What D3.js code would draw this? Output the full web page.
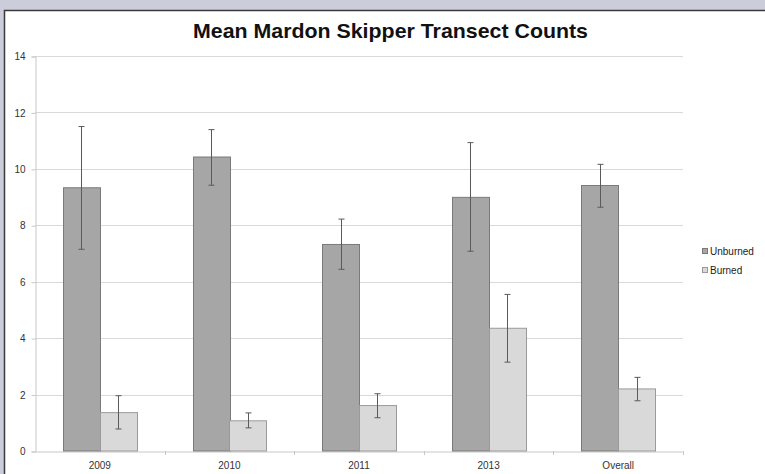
<!DOCTYPE html>
<html lang="en">
  <head>
    <meta charset="utf-8" />
    <title>Mean Mardon Skipper Transect Counts</title>
    <script src="https://d3js.org/d3.v7.min.js"></script>
    <style>
      body { margin: 0; background: #cbcdda; }
      svg { display: block; font-family: "Liberation Sans", Arial, sans-serif; }
    </style>
  </head>
  <body>
    <svg width="765" height="474"></svg>
  </body>
  <script>
    // Data
    const categories = ['2009', '2010', '2011', '2013', 'Overall'];
    const seriesNames = ['Unburned', 'Burned'];
    const unburned = [9.33, 10.42, 7.32, 8.99, 9.41];
    const unburnedLow = [7.15, 9.42, 6.44, 7.08, 8.64];
    const unburnedHigh = [11.5, 11.39, 8.22, 10.93, 10.16];
    const burned = [1.36, 1.07, 1.61, 4.35, 2.2];
    const burnedLow = [0.78, 0.82, 1.18, 3.15, 1.78];
    const burnedHigh = [1.96, 1.35, 2.03, 5.55, 2.61];
    const yTicks = [0, 2, 4, 6, 8, 10, 12, 14];

    const svg = d3.select('svg');

    // white chart panel with dark border
    svg.append('rect')
      .attr('x', 4.5).attr('y', 10.5)
      .attr('width', 780).attr('height', 480)
      .attr('fill', '#fff')
      .attr('stroke', '#3a3a3a')
      .attr('stroke-width', 1.5);

    svg.append('text')
      .attr('x', 390.5).attr('y', 38)
      .attr('text-anchor', 'middle')
      .attr('font-size', 20.5)
      .attr('font-weight', 'bold')
      .attr('fill', '#111')
      .attr('textLength', 395)
      .attr('lengthAdjust', 'spacingAndGlyphs')
      .text('Mean Mardon Skipper Transect Counts');

    const plotLeft = 35, plotRight = 683, plotTop = 56, plotBottom = 451;

    const x = d3.scaleBand()
      .domain(categories)
      .range([plotLeft, plotRight]);

    const x1 = d3.scaleBand()
      .domain(seriesNames)
      .range([0, x.bandwidth()])
      .paddingOuter(0.76)
      .paddingInner(0);

    const y = d3.scaleLinear()
      .domain([0, 14])
      .range([plotBottom, plotTop]);

    // horizontal gridlines
    svg.append('g')
      .selectAll('line')
      .data(yTicks.filter(d => d > 0))
      .join('line')
      .attr('x1', plotLeft).attr('x2', plotRight)
      .attr('y1', d => Math.round(y(d)) + 0.5)
      .attr('y2', d => Math.round(y(d)) + 0.5)
      .attr('stroke', '#d9d9d9');

    // y axis
    const yAxis = svg.append('g')
      .attr('transform', `translate(${plotLeft + 0.5}, 0.5)`)
      .call(d3.axisLeft(y).tickValues(yTicks).tickSize(4).tickPadding(6));
    yAxis.select('.domain').attr('stroke', '#c8c8c8');
    yAxis.selectAll('.tick line').attr('stroke', '#c8c8c8');
    yAxis.selectAll('.tick text')
      .attr('font-family', '"Liberation Sans", Arial, sans-serif')
      .attr('font-size', 10).attr('fill', '#333');

    // x axis
    const xAxis = svg.append('g')
      .attr('transform', `translate(0, ${plotBottom + 0.5})`)
      .call(d3.axisBottom(x).tickSize(0).tickPadding(10));
    xAxis.select('.domain').attr('stroke', '#c8c8c8');
    xAxis.selectAll('.tick text')
      .attr('font-family', '"Liberation Sans", Arial, sans-serif')
      .attr('font-size', 10).attr('fill', '#333');
    // category boundary ticks
    svg.append('g')
      .selectAll('line')
      .data(categories)
      .join('line')
      .attr('x1', d => Math.round(x(d) + x.bandwidth()) + 0.5)
      .attr('x2', d => Math.round(x(d) + x.bandwidth()) + 0.5)
      .attr('y1', plotBottom).attr('y2', plotBottom + 4)
      .attr('stroke', '#c8c8c8');

    const fills = { Unburned: '#a6a6a6', Burned: '#d9d9d9' };
    const strokes = { Unburned: '#7a7a7a', Burned: '#9a9a9a' };

    const rows = [];
    categories.forEach((c, i) => {
      rows.push({ c, s: 'Unburned', v: unburned[i], lo: unburnedLow[i], hi: unburnedHigh[i] });
      rows.push({ c, s: 'Burned', v: burned[i], lo: burnedLow[i], hi: burnedHigh[i] });
    });

    svg.append('g')
      .selectAll('rect')
      .data(rows)
      .join('rect')
      .attr('x', d => Math.round(x(d.c) + x1(d.s)) + 0.5)
      .attr('y', d => y(d.v))
      .attr('width', Math.round(x1.bandwidth()))
      .attr('height', d => y(0) - y(d.v))
      .attr('fill', d => fills[d.s])
      .attr('stroke', d => strokes[d.s]);

    // error bars
    const err = svg.append('g').attr('stroke', '#5a5a5a').attr('stroke-width', 1);
    const cx = d => Math.round(x(d.c) + x1(d.s) + x1.bandwidth() / 2) + 0.5;
    err.selectAll('line.v')
      .data(rows).join('line').attr('class', 'v')
      .attr('x1', cx).attr('x2', cx)
      .attr('y1', d => y(d.lo)).attr('y2', d => y(d.hi));
    err.selectAll('line.hi')
      .data(rows).join('line').attr('class', 'hi')
      .attr('x1', d => cx(d) - 3).attr('x2', d => cx(d) + 3)
      .attr('y1', d => y(d.hi)).attr('y2', d => y(d.hi));
    err.selectAll('line.lo')
      .data(rows).join('line').attr('class', 'lo')
      .attr('x1', d => cx(d) - 3).attr('x2', d => cx(d) + 3)
      .attr('y1', d => y(d.lo)).attr('y2', d => y(d.lo));

    // legend
    const legend = svg.append('g')
      .selectAll('g')
      .data(seriesNames)
      .join('g')
      .attr('transform', (d, i) => `translate(702, ${255 + i * 19})`);
    legend.append('rect')
      .attr('x', 0.5).attr('y', -6.5)
      .attr('width', 5).attr('height', 5)
      .attr('fill', d => fills[d])
      .attr('stroke', d => strokes[d]);
    legend.append('text')
      .attr('x', 8).attr('y', 0)
      .attr('font-size', 10)
      .attr('fill', '#222')
      .text(d => d);
  </script>
</html>
